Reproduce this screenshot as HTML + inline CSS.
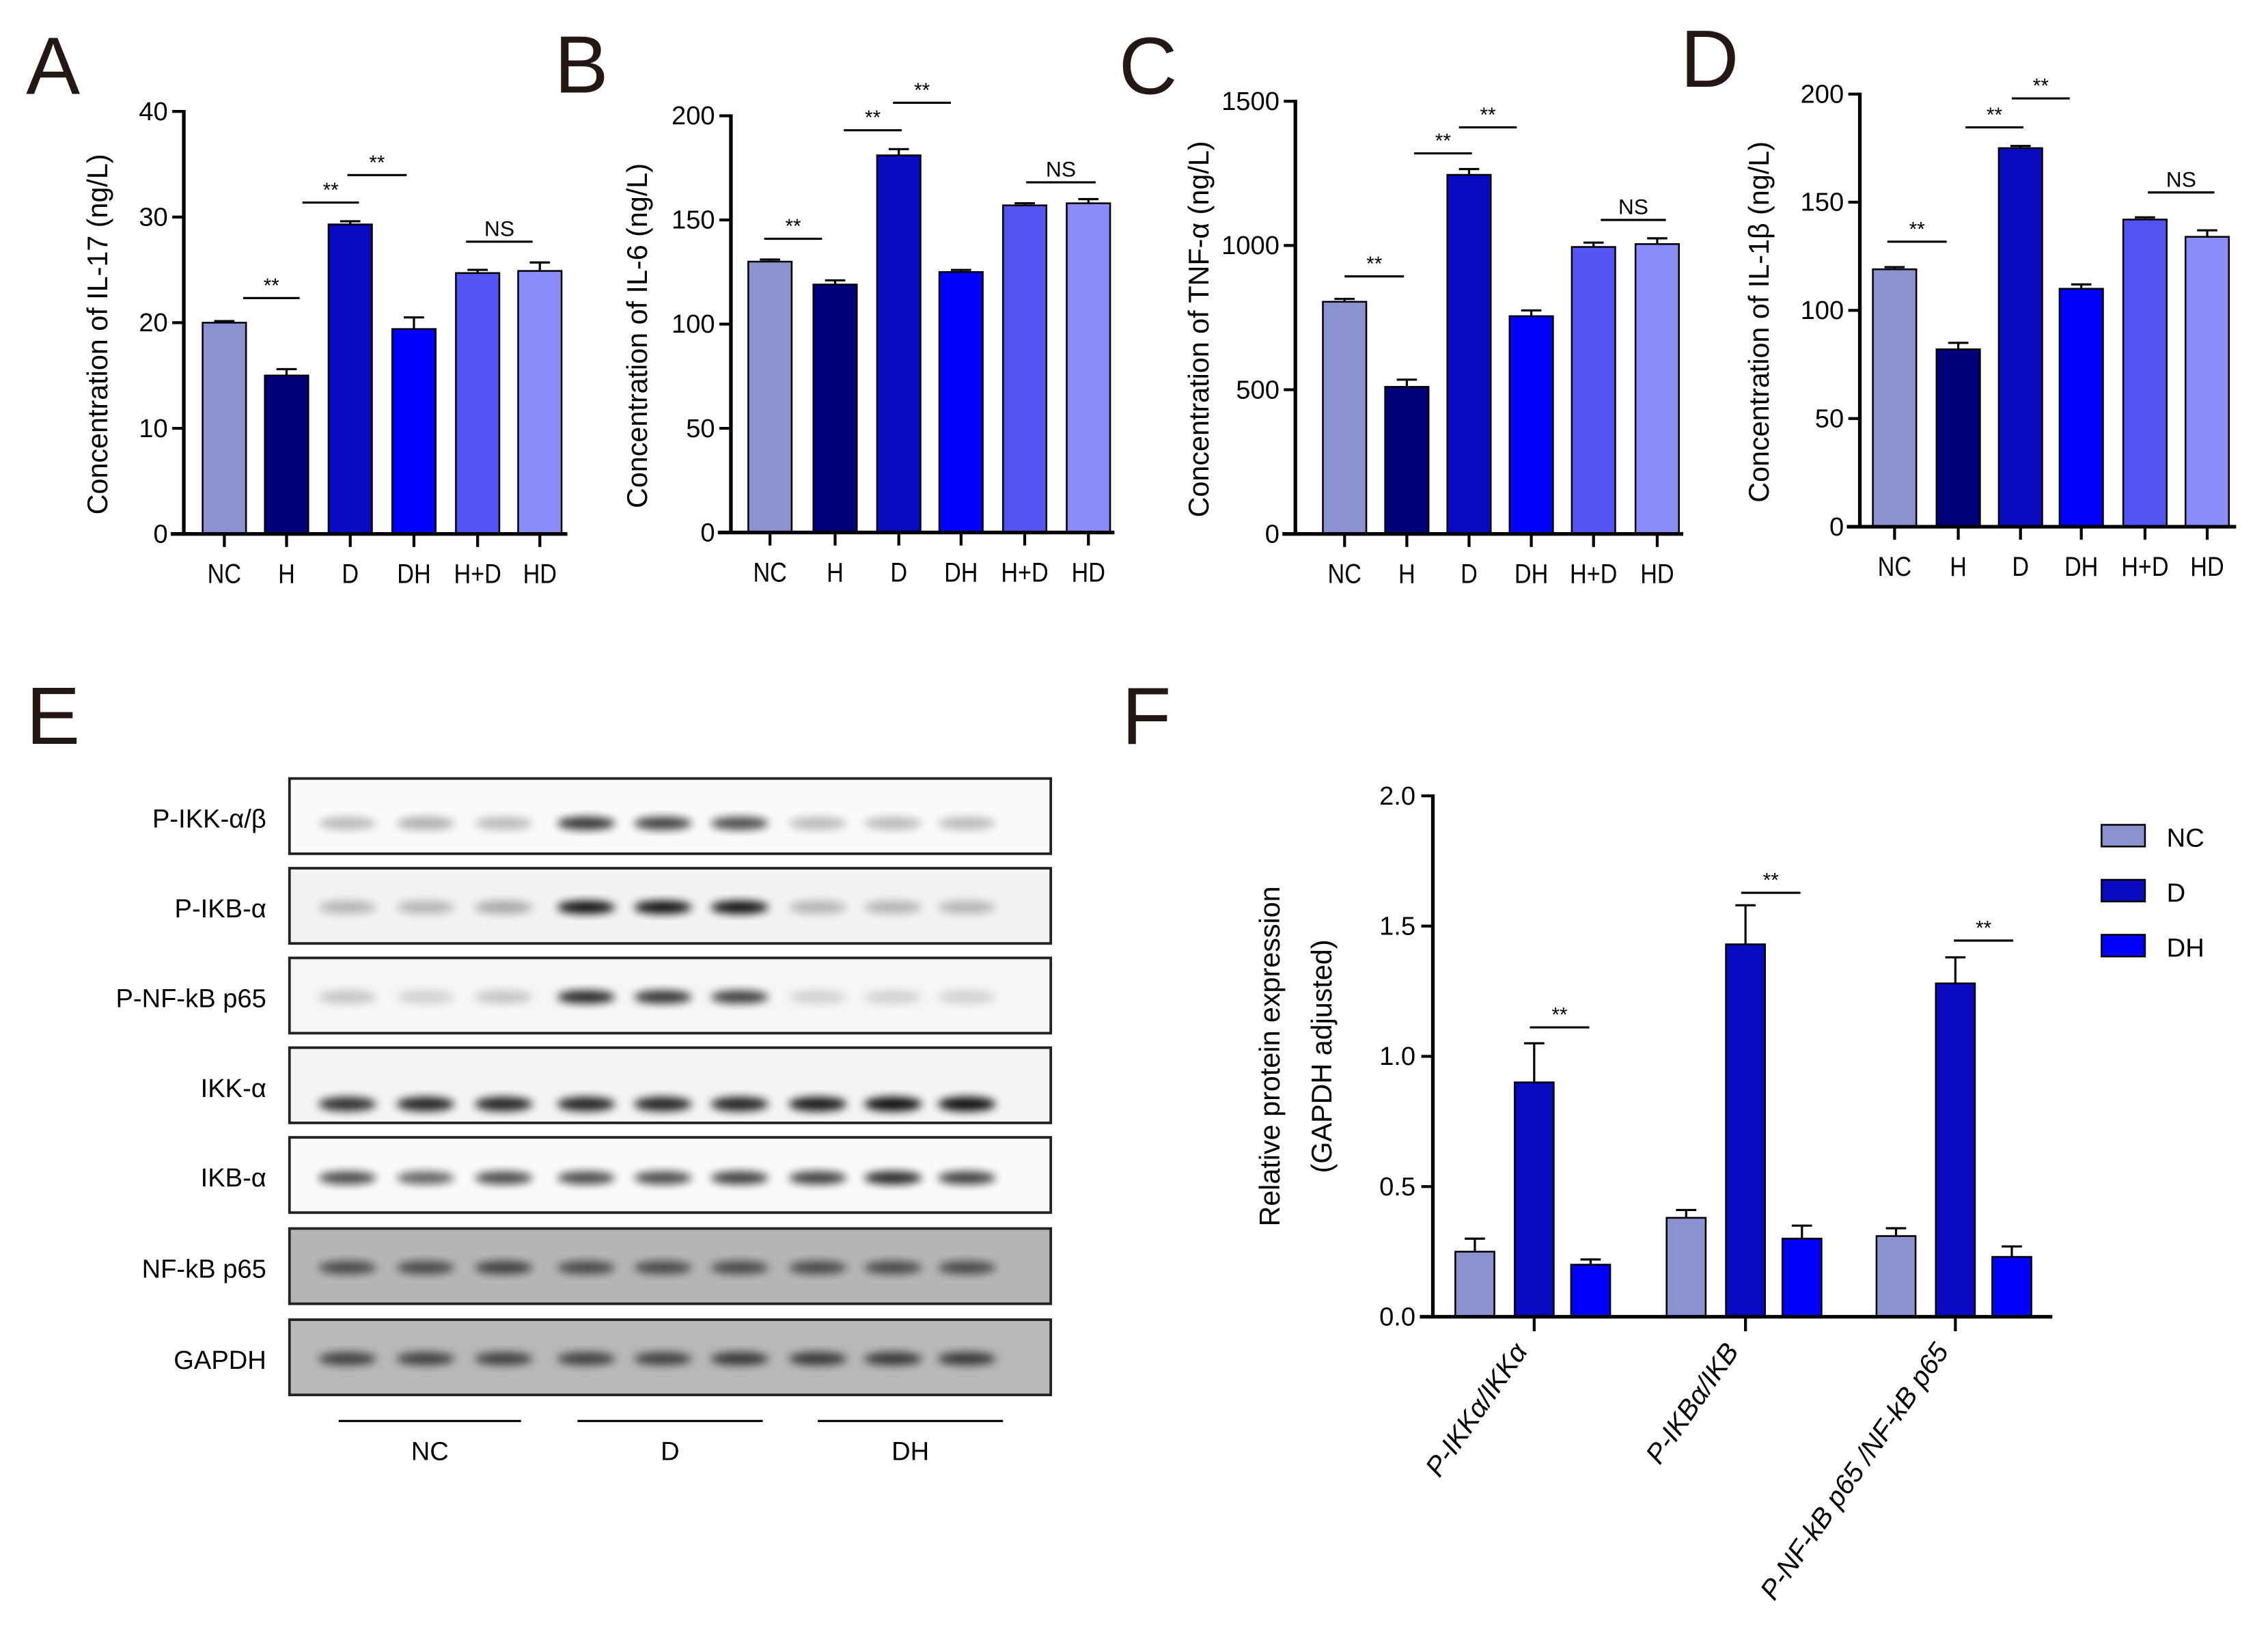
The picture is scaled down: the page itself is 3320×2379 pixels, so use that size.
<!DOCTYPE html>
<html><head><meta charset="utf-8"><style>
html,body{margin:0;padding:0;background:#fff;}
svg{display:block;font-family:"Liberation Sans",Arial,sans-serif;}
</style></head><body>
<svg id="fig" width="3320" height="2379" viewBox="0 0 1567 1123" preserveAspectRatio="none" xmlns="http://www.w3.org/2000/svg">
<defs><filter id="blur" x="-50%" y="-50%" width="200%" height="200%"><feGaussianBlur stdDeviation="3"/></filter></defs>
<g id="root"></g>
</svg>
<script>
const cats=["NC","H","D","DH","H+D","HD"];
const colors=["#8a93cf","#00007a","#0a0ac0","#0000ff","#5555f5","#8a8cf8"];
const il17=[20,15,29.3,19.4,24.7,24.9];
const il17Err=[0.15,0.6,0.3,1.1,0.3,0.8];
const il6=[130,119,181,125,157,158];
const il6Err=[1,2,3,1,1,2];
const tnf=[805,510,1245,755,995,1005];
const tnfErr=[10,25,20,20,15,20];
const il1b=[119,82,175,110,142,134];
const il1bErr=[1,3,1,2,1,3];
const fCats=["P-IKKα/IKKα","P-IKBα/IKB","P-NF-kB p65 /NF-kB p65"];
const fNC=[0.25,0.38,0.31];
const fNCErr=[0.05,0.03,0.03];
const fD=[0.9,1.43,1.28];
const fDErr=[0.15,0.15,0.1];
const fDH=[0.2,0.3,0.23];
const fDHErr=[0.02,0.05,0.04];

const NS="http://www.w3.org/2000/svg";
const root=document.getElementById('root');
function el(tag,attrs,parent,text){const e=document.createElementNS(NS,tag);for(const k in attrs)e.setAttribute(k,attrs[k]);if(text!==undefined)e.textContent=text;(parent||root).appendChild(e);return e;}

const panels=[
 {letter:"A",lx:18,ax:127,y0:369,yTop:77,max:40,ticks:[0,10,20,30,40],centers:[155,198,242,286,330,373],xEnd:392,vals:il17,errs:il17Err,label:"Concentration of IL-17 (ng/L)",labX:74,
  sig:[[168,207,206,"**"],[209,248,140,"**"],[240,281,121,"**"],[322,368,167,"NS"]]},
 {letter:"B",lx:383,ax:505,y0:368,yTop:80,max:200,ticks:[0,50,100,150,200],centers:[532,577,621,664,708,752],xEnd:770,vals:il6,errs:il6Err,label:"Concentration  of IL-6 (ng/L)",labX:447,
  sig:[[528,568,165,"**"],[583,623,90,"**"],[617,657,71,"**"],[709,757,126,"NS"]]},
 {letter:"C",lx:773,ax:895,y0:369,yTop:70,max:1500,ticks:[0,500,1000,1500],centers:[929,972,1015,1058,1101,1145],xEnd:1163,vals:tnf,errs:tnfErr,label:"Concentration of TNF-α (ng/L)",labX:835,
  sig:[[929,970,191,"**"],[977,1017,106,"**"],[1008,1048,88,"**"],[1106,1151,152,"NS"]]},
 {letter:"D",lx:1161,ax:1285,y0:364,yTop:65,max:200,ticks:[0,50,100,150,200],centers:[1309,1353,1396,1438,1482,1525],xEnd:1545,vals:il1b,errs:il1bErr,label:"Concentration of IL-1β (ng/L)",labX:1222,
  sig:[[1304,1345,167,"**"],[1358,1398,88,"**"],[1390,1430,68,"**"],[1484,1530,133,"NS"]]}
];
panels.forEach((p,pi)=>{
  const g=el('g',{});
  
  
  const ys=v=>p.y0-(v/p.max)*(p.y0-p.yTop);
  const L=el('text',{x:p.lx,y:p.y0-304,'font-size':56,fill:'#231815'},g,p.letter);
  
  p.vals.forEach((v,i)=>{
    const c=p.centers[i],w=30,yv=ys(v),ye=ys(v+p.errs[i]);
    el('line',{x1:c,x2:c,y1:yv,y2:ye,stroke:'#000','stroke-width':1.5},g);
    el('line',{x1:c-7,x2:c+7,y1:ye,y2:ye,stroke:'#000','stroke-width':1.5},g);
    const r=el('rect',{x:c-w/2,y:yv,width:w,height:p.y0-yv,fill:colors[i],stroke:'#000','stroke-width':1.2},g);
    
    
    el('line',{x1:c,x2:c,y1:p.y0,y2:p.y0+9,stroke:'#000','stroke-width':2},g);
    const t=el('text',{x:c,y:p.y0+34,'font-size':19,'text-anchor':'middle',transform:`translate(${c},0) scale(0.85,1) translate(${-c},0)`},g,cats[i]);
    
  });
  el('line',{x1:p.ax,x2:p.ax,y1:p.yTop-1,y2:p.y0+1,stroke:'#000','stroke-width':2.5},g);
  el('line',{x1:p.ax-9,x2:p.xEnd,y1:p.y0,y2:p.y0,stroke:'#000','stroke-width':2.5},g);
  p.ticks.forEach(t=>{
    const y=ys(t);
    el('line',{x1:p.ax-8,x2:p.ax,y1:y,y2:y,stroke:'#000','stroke-width':2},g);
    const tx=el('text',{x:p.ax-11,y:y+6,'font-size':18,'text-anchor':'end'},g,String(t));
    
  });
  const yl=el('text',{x:0,y:0,'font-size':19.5,'text-anchor':'middle',transform:`translate(${p.labX},${(p.y0+p.yTop)/2+8}) rotate(-90)`},g,p.label);
  
  p.sig.forEach(s=>{
    el('line',{x1:s[0],x2:s[1],y1:s[2],y2:s[2],stroke:'#000','stroke-width':1.5},g);
    const st=el('text',{x:(s[0]+s[1])/2,y:s[2]-4,'font-size':s[3]==="NS"?15:14,'text-anchor':'middle'},g,s[3]);
    
  });
});

// Panel E blots
const gE=el('g',{});


const eL=el('text',{x:18,y:514,'font-size':56,fill:'#231815'},gE,"E");

const blotRows=["P-IKK-α/β","P-IKB-α","P-NF-kB p65","IKK-α","IKB-α","NF-kB p65","GAPDH"];
const rowTops=[538,600,662,724,786,849,912];
const rowBg=["#fafafa","#f2f2f2","#f6f6f6","#f4f4f4","#fafafa","#b5b5b5","#b8b8b8"];
const intens=[
 [.25,.3,.25,.8,.75,.7,.25,.25,.25],
 [.25,.25,.3,.95,.95,.95,.25,.25,.25],
 [.2,.15,.2,.85,.8,.75,.15,.15,.15],
 [.8,.85,.85,.85,.85,.85,.9,.95,.95],
 [.7,.6,.7,.7,.7,.75,.75,.85,.75],
 [.6,.6,.65,.6,.6,.6,.6,.6,.6],
 [.65,.65,.65,.65,.65,.7,.7,.7,.7]];
const lanes=[240,294,348,405,458,511,565,617,668];
blotRows.forEach((n,r)=>{
  const y=rowTops[r];
  const b=el('rect',{x:200,y:y,width:526,height:52,fill:rowBg[r],stroke:'#222','stroke-width':1.8},gE);
  
  
  const t=el('text',{x:184,y:y+34,'font-size':18,'text-anchor':'end'},gE,n);
  
  lanes.forEach((lx,i)=>{
    const a=intens[r][i];
    const by=y+(r===3?39:r===0?31:r===4?28:27);
    el('ellipse',{cx:lx,cy:by,rx:20,ry:r===3?5:4.5,fill:'#000',opacity:a,filter:'url(#blur)'},gE);
  });
});
[[234,360,"NC"],[399,527,"D"],[565,693,"DH"]].forEach(g=>{
  el('line',{x1:g[0],x2:g[1],y1:982,y2:982,stroke:'#000','stroke-width':1.5},gE);
  const t=el('text',{x:(g[0]+g[1])/2,y:1009,'font-size':18,'text-anchor':'middle'},gE,g[2]);
  
});

// Panel F
const gF=el('g',{});


const fL=el('text',{x:775,y:514,'font-size':56,fill:'#231815'},gF,"F");

const fAx=990,fY0=910,fYT=550,fMax=2;
const fy=v=>fY0-(v/fMax)*(fY0-fYT);
const groupCenters=[1060,1206,1351];
const offsets=[-41,0,39];
const fSeries=[[fNC,fNCErr,"#8a93cf","NC"],[fD,fDErr,"#0a0ac0","D"],[fDH,fDHErr,"#0000ff","DH"]];
fSeries.forEach((s,si)=>{
  s[0].forEach((v,i)=>{
    const c=groupCenters[i]+offsets[si],yv=fy(v),ye=fy(v+s[1][i]);
    el('line',{x1:c,x2:c,y1:yv,y2:ye,stroke:'#000','stroke-width':1.5},gF);
    el('line',{x1:c-7,x2:c+7,y1:ye,y2:ye,stroke:'#000','stroke-width':1.5},gF);
    const r=el('rect',{x:c-13.5,y:yv,width:27,height:fY0-yv,fill:s[2],stroke:'#000','stroke-width':1.2},gF);
    
    
  });
});
el('line',{x1:fAx,x2:fAx,y1:fYT-1,y2:fY0+1,stroke:'#000','stroke-width':2.5},gF);
el('line',{x1:fAx-9,x2:1418,y1:fY0,y2:fY0,stroke:'#000','stroke-width':2.5},gF);
[0,0.5,1,1.5,2].forEach(t=>{
  const y=fy(t);
  el('line',{x1:fAx-8,x2:fAx,y1:y,y2:y,stroke:'#000','stroke-width':2},gF);
  const tx=el('text',{x:fAx-12,y:y+6,'font-size':18,'text-anchor':'end'},gF,t.toFixed(1));
  
});
groupCenters.forEach((c,i)=>{
  el('line',{x1:c,x2:c,y1:fY0,y2:fY0+10,stroke:'#000','stroke-width':2},gF);
  const t=el('text',{x:0,y:0,'font-size':19,'font-style':'italic','text-anchor':'end',transform:`translate(${c-4},${fY0+24}) rotate(-55)`},gF,fCats[i]);
  
});
[[1057,1098,710],[1203,1244,617],[1350,1391,650]].forEach(s=>{
  el('line',{x1:s[0],x2:s[1],y1:s[2],y2:s[2],stroke:'#000','stroke-width':1.5},gF);
  const st=el('text',{x:(s[0]+s[1])/2,y:s[2]-4,'font-size':14,'text-anchor':'middle'},gF,"**");
  
});
const yt1=el('text',{x:0,y:0,'font-size':19.5,'text-anchor':'middle',transform:`translate(884,730) rotate(-90)`},gF,"Relative protein expression");

const yt2=el('text',{x:0,y:0,'font-size':19.5,'text-anchor':'middle',transform:`translate(920,730) rotate(-90)`},gF,"(GAPDH adjusted)");

fSeries.forEach((s,si)=>{
  const y=578+si*38;
  const lg=el('g',{},gF);
  
  
  el('rect',{x:1452,y:y-8,width:30,height:15,fill:s[2],stroke:'#000','stroke-width':1.2},lg);
  el('text',{x:1497,y:y+7,'font-size':18},lg,s[3]);
});
</script>
</body></html>
